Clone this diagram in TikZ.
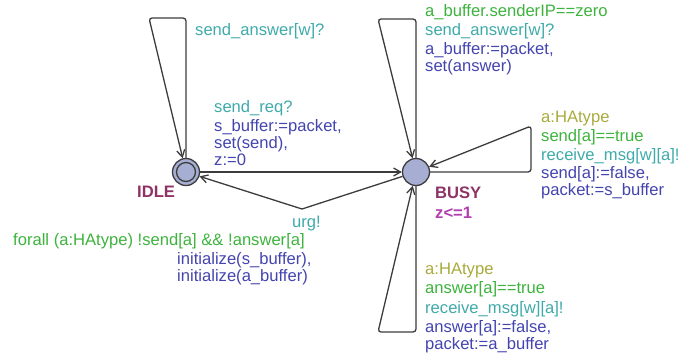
\documentclass[tikz,border=0pt]{standalone}
\usepackage{fontspec}
\setmainfont{Liberation Sans}
\usetikzlibrary{arrows.meta}
\definecolor{locfill}{HTML}{A6AED3}
\definecolor{locname}{HTML}{8E3366}
\definecolor{invcol}{HTML}{B040B0}
\definecolor{selcol}{HTML}{A8AA3C}
\definecolor{guardcol}{HTML}{3DB33D}
\definecolor{synccol}{HTML}{40AAAA}
\definecolor{assigncol}{HTML}{4444B0}
\definecolor{edgecol}{HTML}{3C3C3C}
\tikzset{
  loc/.style={circle, draw=edgecol, fill=locfill, line width=1.3bp,
    minimum size=27bp, inner sep=0pt},
  edge/.style={draw=edgecol, line width=1.3bp,
    -{Straight Barb[length=7bp,width=8bp]}},
  loop/.style={edge, rounded corners=3bp},
  lbl/.style={anchor=base west, inner sep=0pt,
    font=\fontsize{16.6bp}{17bp}\selectfont},
  sel/.style={lbl, text=selcol},
  guard/.style={lbl, text=guardcol},
  sync/.style={lbl, text=synccol},
  assign/.style={lbl, text=assigncol},
  lname/.style={lbl, text=locname, font=\fontsize{16.6bp}{17bp}\selectfont\bfseries},
  inv/.style={lbl, text=invcol, font=\fontsize{16.6bp}{17bp}\selectfont\bfseries}
}
\begin{document}
\begin{tikzpicture}[x=1bp, y=-1bp]
\useasboundingbox (0,0) rectangle (679,358);

% locations
\node[loc] (idle) at (186,172) {};
\draw[draw=edgecol, line width=1.3bp] (idle.center) circle[radius=9.5bp];
\node[loc] (busy) at (416,172) {};

\node[lname] (idlename) at (137,197) {IDLE};
\node[lname] (busyname) at (435,198) {BUSY};
\node[inv] (busyinv) at (435,218) {z<=1};

% nails
\coordinate (ia) at (186,18);
\coordinate (ib) at (149,18);
\coordinate (ta) at (416,19);
\coordinate (tb) at (378,19);
\coordinate (ra) at (531,172);
\coordinate (rb) at (531,126);
\coordinate (ba) at (416,332);
\coordinate (bb) at (378,332);
\coordinate (back) at (302,209);

% edges
\draw[loop] (idle) -- (ia) -- (ib) -- (idle);
\draw[edge] (idle) -- (busy);
\draw[edge] (busy) -- (back) -- (idle);
\draw[loop] (busy) -- (ta) -- (tb) -- (busy);
\draw[loop] (busy) -- (ra) -- (rb) -- (busy);
\draw[loop] (busy) -- (ba) -- (bb) -- (busy);

% IDLE self-loop
\node[sync] (l1) at (195,35.5) {send\_answer[w]?};

% IDLE -> BUSY
\node[sync] (l2) at (214,112.5) {send\_req?};
\node[assign] (l3) at (214,131.5) {s\_buffer:=packet,};
\node[assign] (l4) at (214,148.5) {set(send),};
\node[assign] (l5) at (214,165.5) {z:=0};

% BUSY -> IDLE
\node[sync] (l6) at (292,227) {urg!};
\node[guard] (l7) at (13,245.5) {forall (a:HAtype) !send[a] \&\& !answer[a]};
\node[assign] (l8) at (177,264.5) {initialize(s\_buffer),};
\node[assign] (l9) at (177,281.5) {initialize(a\_buffer)};

% BUSY top loop
\node[guard] (t1) at (425,16.5) {a\_buffer.senderIP==zero};
\node[sync] (t2) at (425,35.5) {send\_answer[w]?};
\node[assign] (t3) at (425,54.5) {a\_buffer:=packet,};
\node[assign] (t4) at (425,71.5) {set(answer)};

% BUSY right loop
\node[sel] (r1) at (541,122.5) {a:HAtype};
\node[guard] (r2) at (541,141) {send[a]==true};
\node[sync] (r3) at (541,160) {receive\_msg[w][a]!};
\node[assign] (r4) at (541,178) {send[a]:=false,};
\node[assign] (r5) at (541,195) {packet:=s\_buffer};

% BUSY bottom loop
\node[sel] (b1) at (425,274.5) {a:HAtype};
\node[guard] (b2) at (425,293.5) {answer[a]==true};
\node[sync] (b3) at (425,313) {receive\_msg[w][a]!};
\node[assign] (b4) at (425,332) {answer[a]:=false,};
\node[assign] (b5) at (425,349) {packet:=a\_buffer};
\end{tikzpicture}
\end{document}
